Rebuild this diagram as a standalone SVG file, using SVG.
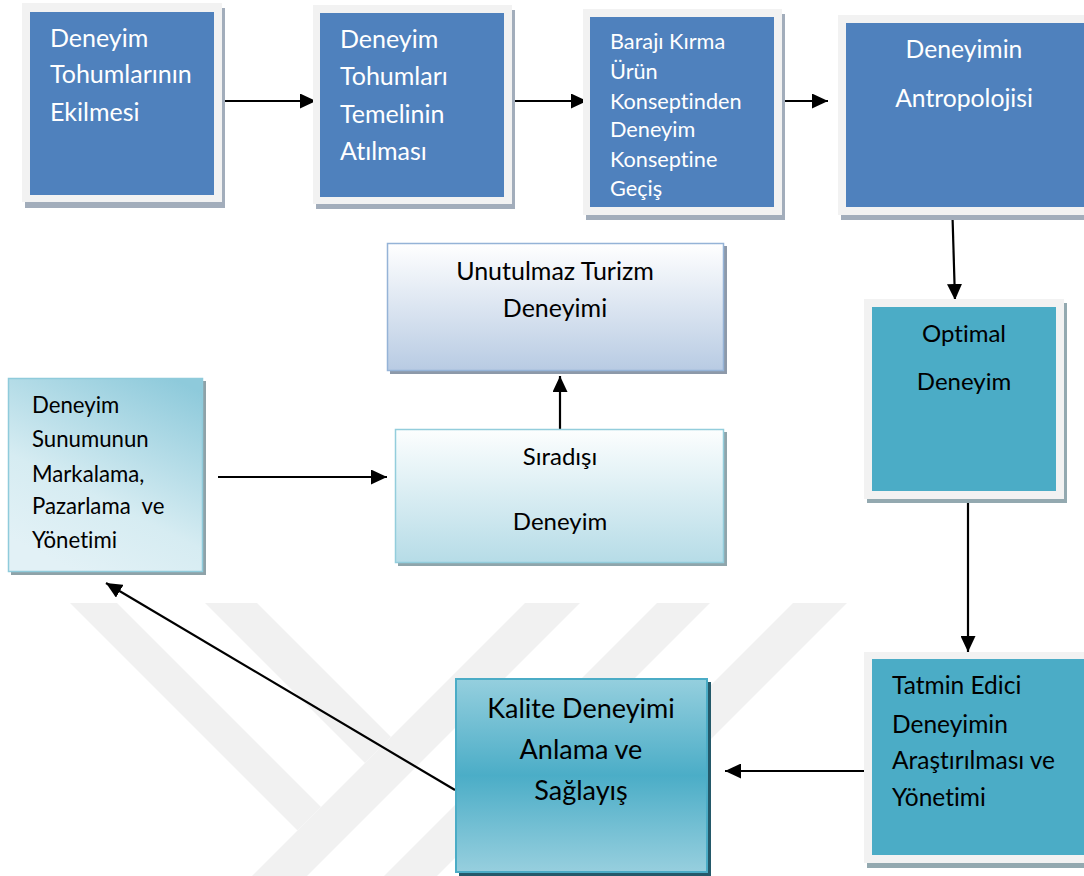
<svg xmlns="http://www.w3.org/2000/svg" width="1084" height="876" viewBox="0 0 1084 876">
<style>
  .t { font-family: Lato, "Open Sans", "Liberation Sans", sans-serif; font-variant-ligatures: none; }
  .w { fill: #ffffff; }
  .k { fill: #000000; }
  .frame { fill: #f2f2f2; }
  .bshadow { fill: #a2adbb; }
  .tshadow { fill: #93a9b0; }
  .blue { fill: #4f81bd; }
  .teal { fill: #4bacc6; }
  .conn { stroke: #000; stroke-width: 2.2; fill: none; marker-end: url(#ah); }
  .wm { fill: #f1f1f1; }
</style>
<defs>
  <marker id="ah" markerUnits="userSpaceOnUse" markerWidth="17" markerHeight="15" refX="16" refY="7.5" orient="auto">
    <path d="M0,0 L16,7.5 L0,15 z" fill="#000"/>
  </marker>
  <linearGradient id="g7" x1="0" y1="0" x2="0" y2="1">
    <stop offset="0" stop-color="#95cfde"/>
    <stop offset="0.5" stop-color="#4badc7"/>
    <stop offset="1" stop-color="#97cfde"/>
  </linearGradient>
  <linearGradient id="g8" x1="0.85" y1="0" x2="0.35" y2="1">
    <stop offset="0" stop-color="#8ecadb"/>
    <stop offset="0.65" stop-color="#d6ecf2"/>
    <stop offset="1" stop-color="#e2f1f6"/>
  </linearGradient>
  <linearGradient id="g9" x1="0" y1="0" x2="0" y2="1">
    <stop offset="0" stop-color="#fcfefe"/>
    <stop offset="1" stop-color="#b6dce7"/>
  </linearGradient>
  <linearGradient id="g10" x1="0" y1="0" x2="0" y2="1">
    <stop offset="0" stop-color="#ffffff"/>
    <stop offset="1" stop-color="#b8cbe3"/>
  </linearGradient>
</defs>
<rect width="1084" height="876" fill="#ffffff"/>
<g id="watermark">
  <polygon class="wm" points="70,603 117,603 321,807 297.5,830.5"/>
  <polygon class="wm" points="205,603 257,603 391,737 365,763"/>
  <polygon class="wm" points="525,603 580,603 307,876 252,876"/>
  <polygon class="wm" points="657,603 710,603 437,876 384,876"/>
  <polygon class="wm" points="793,603 847,603 574,876 520,876"/>
</g>
<g id="connectors">
  <line class="conn" x1="218" y1="101" x2="316" y2="101"/>
  <line class="conn" x1="508" y1="101" x2="587" y2="101"/>
  <line class="conn" x1="778" y1="101" x2="828" y2="101"/>
  <line class="conn" x1="952.5" y1="216" x2="955" y2="300"/>
  <line class="conn" x1="968" y1="500" x2="968" y2="652"/>
  <line class="conn" x1="864" y1="771" x2="725" y2="771"/>
  <line class="conn" x1="455" y1="790" x2="106" y2="583"/>
  <line class="conn" x1="218" y1="477" x2="387" y2="477"/>
  <line class="conn" x1="560" y1="429" x2="560" y2="376"/>
</g>
<g id="n1">
  <rect class="bshadow" x="25" y="8" width="200" height="200"/>
  <rect class="frame" x="22" y="3" width="200" height="199"/>
  <rect class="blue" x="30" y="12" width="184" height="183"/>
  <text class="t w" font-size="25"><tspan x="50" y="47">Deneyim</tspan><tspan x="50" y="83">Tohumlarının</tspan><tspan x="50" y="121">Ekilmesi</tspan></text>
</g>
<g id="n2">
  <rect class="bshadow" x="316" y="10" width="199" height="199"/>
  <rect class="frame" x="313" y="5" width="199" height="199"/>
  <rect class="blue" x="320" y="13" width="184" height="184"/>
  <text class="t w" font-size="25"><tspan x="340" y="48">Deneyim</tspan><tspan x="340" y="85">Tohumları</tspan><tspan x="340" y="123">Temelinin</tspan><tspan x="340" y="160">Atılması</tspan></text>
</g>
<g id="n3">
  <rect class="bshadow" x="586" y="14" width="199" height="206"/>
  <rect class="frame" x="583" y="9" width="199" height="206"/>
  <rect class="blue" x="590" y="17" width="184" height="190"/>
  <text class="t w" font-size="21.7"><tspan x="610" y="49">Barajı Kırma</tspan><tspan x="610" y="79">Ürün</tspan><tspan x="610" y="109">Konseptinden</tspan><tspan x="610" y="137">Deneyim</tspan><tspan x="610" y="167">Konseptine</tspan><tspan x="610" y="196">Geçiş</tspan></text>
</g>
<g id="n4">
  <rect class="bshadow" x="841" y="20" width="250" height="200"/>
  <rect class="frame" x="838" y="15" width="250" height="200"/>
  <rect class="blue" x="846" y="23" width="240" height="184"/>
  <text class="t w" font-size="24.7" text-anchor="middle"><tspan x="964" y="58">Deneyimin</tspan><tspan x="964" y="107">Antropolojisi</tspan></text>
</g>
<g id="n5">
  <rect class="tshadow" x="867" y="303" width="200" height="200"/>
  <rect class="frame" x="864" y="299" width="200" height="200"/>
  <rect class="teal" x="872" y="307" width="184" height="184"/>
  <text class="t k" font-size="24" text-anchor="middle"><tspan x="964" y="342">Optimal</tspan><tspan x="964" y="390">Deneyim</tspan></text>
</g>
<g id="n6">
  <rect class="tshadow" x="867" y="656" width="225" height="212"/>
  <rect class="frame" x="864" y="652" width="225" height="211"/>
  <rect class="teal" x="872" y="659" width="215" height="196"/>
  <text class="t k" font-size="24.5"><tspan x="892" y="694">Tatmin Edici</tspan><tspan x="892" y="733">Deneyimin</tspan><tspan x="892" y="769">Araştırılması ve</tspan><tspan x="892" y="806">Yönetimi</tspan></text>
</g>
<g id="n7">
  <rect x="459" y="682" width="252" height="194" fill="#24596a"/>
  <rect x="456" y="679" width="251" height="193" fill="url(#g7)" stroke="#4bacc6" stroke-width="2"/>
  <text class="t k" font-size="27" text-anchor="middle"><tspan x="581" y="718">Kalite Deneyimi</tspan><tspan x="581" y="759">Anlama ve</tspan><tspan x="581" y="800">Sağlayış</tspan></text>
</g>
<g id="n8">
  <rect x="11" y="381" width="195" height="194" fill="#8ea2a8"/>
  <rect x="8.5" y="378.5" width="194" height="193" fill="url(#g8)" stroke="#8fcbdb" stroke-width="1.5"/>
  <text class="t k" font-size="22.2" xml:space="preserve"><tspan x="32" y="413">Deneyim</tspan><tspan x="32" y="447">Sunumunun</tspan><tspan x="32" y="482">Markalama,</tspan><tspan x="32" y="514">Pazarlama  ve</tspan><tspan x="32" y="548">Yönetimi</tspan></text>
</g>
<g id="n9">
  <rect x="398" y="432" width="329" height="134" fill="#8fa5ab"/>
  <rect x="395.5" y="429.5" width="328" height="133" fill="url(#g9)" stroke="#93cddc" stroke-width="1.5"/>
  <text class="t k" font-size="24" text-anchor="middle"><tspan x="560" y="465">Sıradışı</tspan><tspan x="560" y="530">Deneyim</tspan></text>
</g>
<g id="n10">
  <rect x="390" y="246" width="337" height="128" fill="#8d99a9"/>
  <rect x="387.5" y="243.5" width="336" height="127" fill="url(#g10)" stroke="#95b3d7" stroke-width="1.5"/>
  <text class="t k" font-size="25" text-anchor="middle"><tspan x="555" y="280">Unutulmaz Turizm</tspan><tspan x="555" y="317">Deneyimi</tspan></text>
</g>
</svg>
